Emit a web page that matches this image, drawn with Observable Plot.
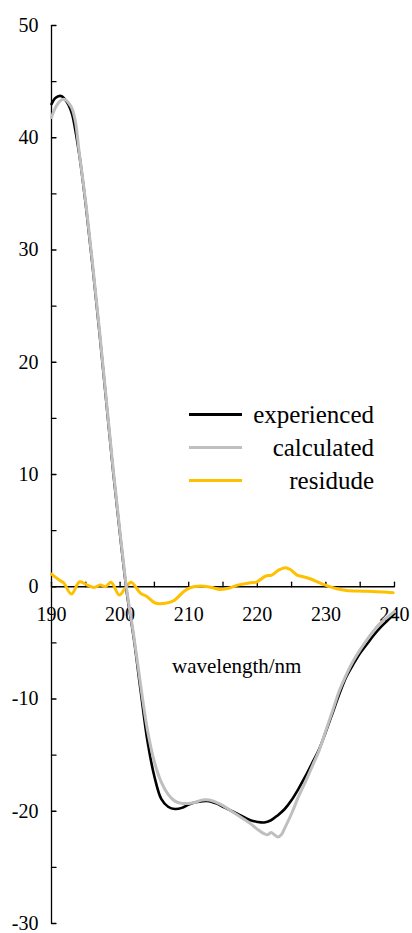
<!DOCTYPE html>
<html><head><meta charset="utf-8">
<script src="https://cdn.jsdelivr.net/npm/d3@7"></script>
<script src="https://cdn.jsdelivr.net/npm/@observablehq/plot@0.6"></script>
<style>
html,body{margin:0;padding:0;background:#fff;}
#wrap{position:relative;width:412px;height:933px;overflow:hidden;}
.legline{position:absolute;left:189px;width:53px;height:3px;}
.legtext{position:absolute;right:38px;font-family:"Liberation Serif",Tinos,"Times New Roman",Times,"DejaVu Serif",serif;font-size:25px;line-height:25px;color:#000;white-space:nowrap;}
</style></head><body><div id="wrap"></div>
<script>
// experienced (black)
const expL = [190,190.5,191,191.5,192,192.5,193,194,195,196,197,198,199,200,201,202,203,204,205,206,207,208,209,210,211,212,213,214,215,216,217,218,219,220,221,222,223,224,225,226,227,228,229,230,231,232,233,234,235,236,237,238,239,240];
const expV = [43.0,43.5,43.7,43.7,43.4,42.9,42.1,38.7,34.0,28.5,22.6,16.4,10.2,4.6,-0.6,-4.6,-9.3,-13.8,-16.9,-18.9,-19.6,-19.8,-19.7,-19.4,-19.2,-19.1,-19.1,-19.3,-19.6,-19.9,-20.2,-20.5,-20.8,-20.95,-21.0,-20.8,-20.35,-19.8,-19.0,-18.0,-16.9,-15.7,-14.5,-12.9,-11.2,-9.5,-8.0,-6.9,-5.9,-5.1,-4.3,-3.6,-3.0,-2.4];
// calculated (gray)
const calL = [190,190.5,191,191.5,192,192.5,193,193.5,194,195,196,197,198,199,200,201,202,203,204,205,206,207,208,209,210,211,212,213,214,215,216,217,218,219,220,221,221.5,222,222.5,223,223.5,224,225,226,227,228,229,230,231,232,233,234,235,236,237,238,239,240];
const calV = [41.8,42.6,43.1,43.4,43.4,43.1,42.6,41.4,38.9,34.2,28.7,22.8,16.6,10.4,4.8,-0.4,-4.4,-8.8,-12.8,-15.6,-17.4,-18.5,-19.1,-19.3,-19.3,-19.2,-19.0,-19.0,-19.2,-19.5,-19.9,-20.3,-20.7,-21.1,-21.6,-22.0,-22.1,-21.9,-22.1,-22.3,-22.1,-21.5,-20.2,-18.7,-17.4,-16.0,-14.6,-12.8,-11.0,-9.2,-7.8,-6.6,-5.6,-4.7,-3.9,-3.2,-2.7,-2.2];
// residude (yellow)
const resL = [190,191.3,191.8,192.9,194.1,195.2,196.2,197.1,197.9,198.7,199.9,200.8,201.6,203.0,203.9,205.1,206.8,207.8,209.3,210.2,211.7,213.2,214.6,216.1,217.0,218.0,219.0,219.9,221.2,222.1,223.1,224.1,224.8,225.8,226.7,227.7,229.6,231.6,233.0,235.5,237.4,239.8];
const resV = [1.13,0.53,0.33,-0.65,0.44,0.15,-0.06,0.15,0.03,0.39,-0.74,-0.06,0.39,-0.59,-0.86,-1.45,-1.45,-1.25,-0.42,-0.09,0.06,-0.05,-0.24,-0.09,0.12,0.25,0.36,0.42,0.95,1.04,1.48,1.69,1.54,1.04,0.89,0.71,0.21,-0.18,-0.33,-0.39,-0.44,-0.53];

const xDomain = [190, 240];
const yDomain = [-30, 50];
const xLabelTicks = [190, 200, 210, 220, 230, 240];
const xAllTicks = [190,195,200,205,210,215,220,225,230,235,240];
const yLabelTicks = [-30,-20,-10,0,10,20,30,40,50];
const yAllTicks = [-30,-25,-20,-15,-10,-5,0,5,10,15,20,25,30,35,40,45,50];
const xTitle = "wavelength/nm";
const series = [
  {name: "experienced", color: "#000000"},
  {name: "calculated", color: "#bfbfbf"},
  {name: "residude", color: "#ffc000"}
];

const toRows = (L, V) => L.map((l, i) => ({l, v: V[i]}));
const exp = toRows(expL, expV), cal = toRows(calL, calV), res = toRows(resL, resV);
const tickShape = {draw(context, l) { context.moveTo(0, 0); context.lineTo(0, -l); }};
const serif = '"Liberation Serif",Tinos,"Times New Roman",Times,"DejaVu Serif",serif';

const chart = Plot.plot({
  width: 412, height: 933,
  marginLeft: 51, marginRight: 18, marginTop: 25, marginBottom: 10,
  x: {domain: xDomain},
  y: {domain: yDomain},
  style: {fontFamily: serif, fontSize: "20px", background: "#fff", color: "#000", overflow: "visible"},
  marks: [
    Plot.axisY(yLabelTicks, {tickSize: 0, tickPadding: 13, tickFormat: d => `${d}`, label: null, fontSize: 20, fontFamily: serif}),
    Plot.axisX({ticks: [], label: null, tickSize: 0}),
    Plot.ruleX([xDomain[0]], {y1: yDomain[0], y2: yDomain[1], stroke: "#000", strokeWidth: 1.3}),
    Plot.ruleY([0], {x1: xDomain[0], x2: xDomain[1], stroke: "#000", strokeWidth: 1.3}),
    Plot.vector(yAllTicks, {x: () => xDomain[0], y: d => d, length: 4.5, rotate: 90, anchor: "start", shape: tickShape, stroke: "#000", strokeWidth: 1.3}),
    Plot.vector(xAllTicks, {x: d => d, y: () => 0, length: 4.5, rotate: 0, anchor: "start", shape: tickShape, stroke: "#000", strokeWidth: 1.3}),
    Plot.text(xLabelTicks, {x: d => d, y: () => 0, text: d => `${d}`, dy: 28, fontSize: 20, lineAnchor: "middle", fontFamily: serif}),
    Plot.text([xTitle], {x: () => 217, y: () => 0, text: d => d, dy: 80, fontSize: 21, lineAnchor: "middle", fontFamily: serif}),
    Plot.line(res, {x: "l", y: "v", stroke: series[2].color, strokeWidth: 3, curve: "catmull-rom"}),
    Plot.line(exp, {x: "l", y: "v", stroke: series[0].color, strokeWidth: 2.6, curve: "catmull-rom"}),
    Plot.line(cal, {x: "l", y: "v", stroke: series[1].color, strokeWidth: 3, curve: "catmull-rom"})
  ]
});
const wrap = document.getElementById("wrap");
wrap.appendChild(chart);
const legY = [414.3, 447, 480];
series.forEach((s, i) => {
  const ln = document.createElement("div");
  ln.className = "legline";
  ln.style.top = (legY[i] - 1.5) + "px";
  ln.style.background = s.color;
  wrap.appendChild(ln);
  const tx = document.createElement("div");
  tx.className = "legtext";
  tx.style.top = (legY[i] - 12) + "px";
  tx.textContent = s.name;
  wrap.appendChild(tx);
});
</script></body></html>
